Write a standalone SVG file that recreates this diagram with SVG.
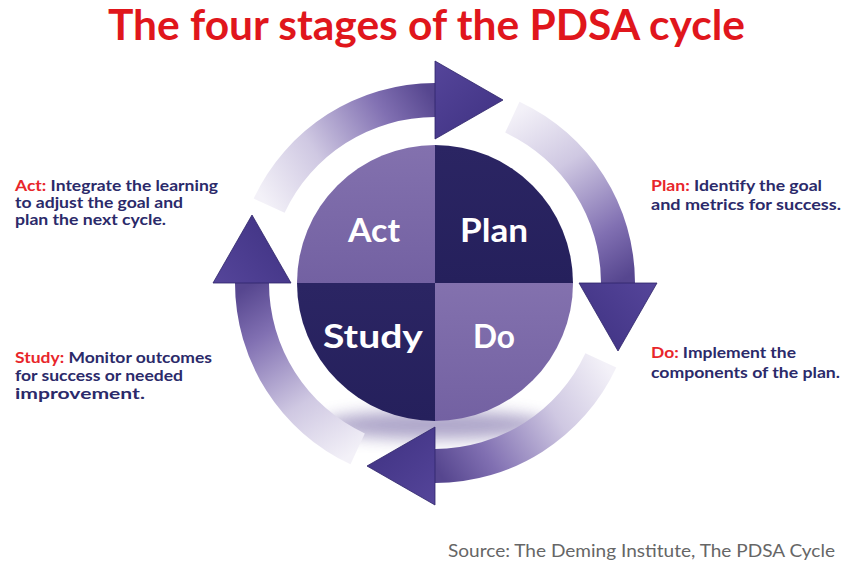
<svg xmlns="http://www.w3.org/2000/svg" xmlns:xlink="http://www.w3.org/1999/xlink" width="845" height="566" viewBox="0 0 845 566">
<style>
.title{font-family:Lato,"Open Sans","Liberation Sans",sans-serif;font-weight:700;font-size:42px;fill:#e0161c}
.lbl{font-family:Lato,"Open Sans","Liberation Sans",sans-serif;font-weight:700;font-size:14.5px;fill:#2b2a6a}
.red{fill:#e8262b}
.qt{font-family:Lato,"Open Sans","Liberation Sans",sans-serif;font-weight:700;font-size:33px;fill:#ffffff}
.src{font-family:Lato,"Open Sans","Liberation Sans",sans-serif;font-weight:400;font-size:18px;fill:#666666}
.light{fill:url(#gLight)}
.dark{fill:url(#gDark)}
.head{fill:url(#gHead);stroke:#2f2569;stroke-width:0.8}
</style>
<defs>
<linearGradient id="gBand" gradientUnits="userSpaceOnUse" x1="268" y1="207" x2="435" y2="100">
<stop offset="0" stop-color="#f3f1f8"/>
<stop offset="0.35" stop-color="#cfc8e2"/>
<stop offset="0.75" stop-color="#8170b2"/>
<stop offset="1" stop-color="#56468f"/>
</linearGradient>
<linearGradient id="gHead" gradientUnits="userSpaceOnUse" x1="435" y1="61" x2="503" y2="139">
<stop offset="0" stop-color="#55459a"/>
<stop offset="1" stop-color="#3e3181"/>
</linearGradient>
<linearGradient id="gLight" x1="0" y1="0" x2="0" y2="1">
<stop offset="0" stop-color="#8371ae"/>
<stop offset="1" stop-color="#7361a2"/>
</linearGradient>
<linearGradient id="gDark" x1="0" y1="0" x2="0" y2="1">
<stop offset="0" stop-color="#2b2563"/>
<stop offset="1" stop-color="#25205c"/>
</linearGradient>
<filter id="blur" x="-50%" y="-50%" width="200%" height="200%">
<feGaussianBlur stdDeviation="8"/>
</filter>
<g id="arrow">
<path d="M253.7 198.5 A200 200 0 0 1 435 83 L435 117 A166 166 0 0 0 284.6 212.8 Z" fill="url(#gBand)"/>
<path class="head" d="M435 61 L503 100 L435 139 Z"/>
</g>
</defs>

<rect width="845" height="566" fill="#ffffff"/>

<g id="title">
<text class="title" x="108" y="40" textLength="637" lengthAdjust="spacingAndGlyphs">The four stages of the PDSA cycle</text>
</g>

<ellipse cx="435" cy="425" rx="115" ry="14" fill="#6b5b9d" opacity="0.55" filter="url(#blur)"/>

<g id="connectors">
<use xlink:href="#arrow" href="#arrow"/>
<use xlink:href="#arrow" href="#arrow" transform="rotate(90 435 283)"/>
<use xlink:href="#arrow" href="#arrow" transform="rotate(180 435 283)"/>
<use xlink:href="#arrow" href="#arrow" transform="rotate(270 435 283)"/>
</g>

<g id="node-act">
<path class="light" d="M435 283 L297 283 A138 138 0 0 1 435 145 Z"/>
<text class="qt" x="348" y="242" textLength="52" lengthAdjust="spacingAndGlyphs">Act</text>
</g>
<g id="node-plan">
<path class="dark" d="M435 283 L435 145 A138 138 0 0 1 573 283 Z"/>
<text class="qt" x="460" y="242" textLength="68" lengthAdjust="spacingAndGlyphs">Plan</text>
</g>
<g id="node-do">
<path class="light" d="M435 283 L573 283 A138 138 0 0 1 435 421 Z"/>
<text class="qt" x="473" y="348" textLength="42" lengthAdjust="spacingAndGlyphs">Do</text>
</g>
<g id="node-study">
<path class="dark" d="M435 283 L435 421 A138 138 0 0 1 297 283 Z"/>
<text class="qt" x="323" y="348" textLength="100" lengthAdjust="spacingAndGlyphs">Study</text>
</g>

<g id="desc-act">
<text class="lbl" x="15" y="191" textLength="203" lengthAdjust="spacingAndGlyphs"><tspan class="red">Act:</tspan> Integrate the learning</text>
<text class="lbl" x="15" y="208" textLength="168" lengthAdjust="spacingAndGlyphs">to adjust the goal and</text>
<text class="lbl" x="15" y="225" textLength="151" lengthAdjust="spacingAndGlyphs">plan the next cycle.</text>
</g>
<g id="desc-study">
<text class="lbl" x="15" y="363" textLength="197" lengthAdjust="spacingAndGlyphs"><tspan class="red">Study:</tspan> Monitor outcomes</text>
<text class="lbl" x="15" y="381" textLength="168" lengthAdjust="spacingAndGlyphs">for success or needed</text>
<text class="lbl" x="15" y="399" textLength="130" lengthAdjust="spacingAndGlyphs">improvement.</text>
</g>
<g id="desc-plan">
<text class="lbl" x="651" y="191" textLength="171" lengthAdjust="spacingAndGlyphs"><tspan class="red">Plan:</tspan> Identify the goal</text>
<text class="lbl" x="651" y="210" textLength="190" lengthAdjust="spacingAndGlyphs">and metrics for success.</text>
</g>
<g id="desc-do">
<text class="lbl" x="651" y="358" textLength="145" lengthAdjust="spacingAndGlyphs"><tspan class="red">Do:</tspan> Implement the</text>
<text class="lbl" x="651" y="378" textLength="189" lengthAdjust="spacingAndGlyphs">components of the plan.</text>
</g>

<g id="source">
<text class="src" x="448" y="557" textLength="387" lengthAdjust="spacingAndGlyphs">Source: The Deming Institute, The PDSA Cycle</text>
</g>
</svg>
